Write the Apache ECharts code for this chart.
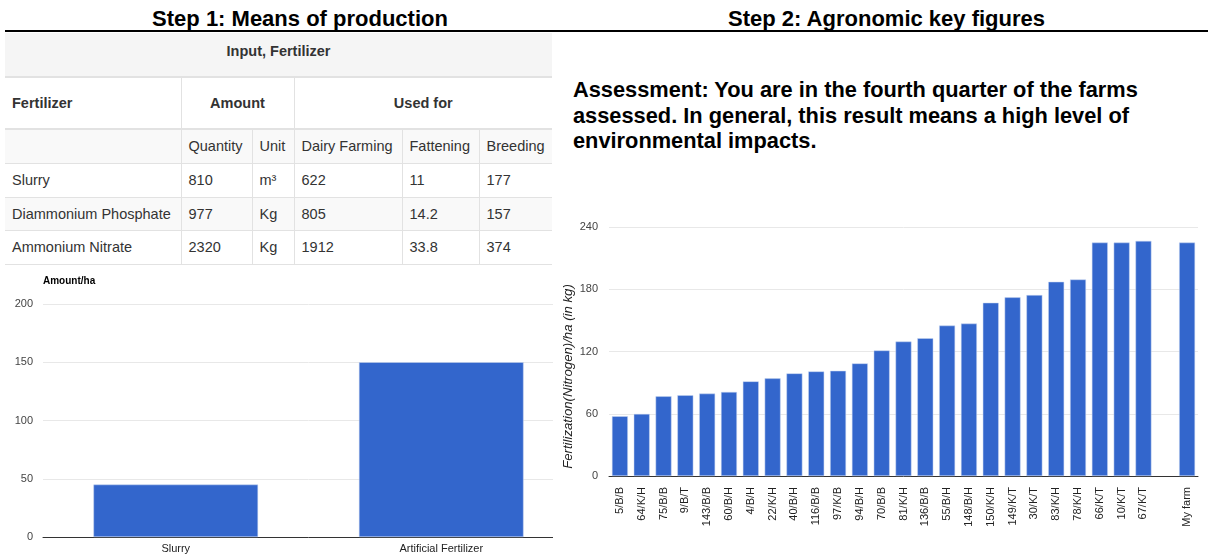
<!DOCTYPE html>
<html>
<head>
<meta charset="utf-8">
<script src="https://cdn.jsdelivr.net/npm/echarts@6/dist/echarts.min.js"></script>
<style>
  html, body { margin: 0; padding: 0; background: #fff; }
  body { width: 1208px; height: 555px; position: relative; overflow: hidden; font-family: Arial, "Liberation Sans", sans-serif; }
  .head { position: absolute; top: 6px; font-weight: bold; font-size: 22px; line-height: 26px; color: #000; text-align: center; }
  .rule { position: absolute; left: 5px; top: 30px; width: 1203px; height: 2px; background: #000; }
  table { position: absolute; left: 5px; top: 33px; width: 547px; border-collapse: collapse; font-size: 14.5px; color: #333; table-layout: fixed; }
  td { border: 1px solid #e2e2e2; padding: 0 0 0 7px; white-space: nowrap; overflow: hidden; box-sizing: border-box; }
  tr:first-child td { border-top: none; }
  td:first-child { border-left: none; }
  td:last-child { border-right: none; }
  .title td { background: #f5f5f5; font-weight: bold; text-align: center; height: 44px; padding: 0 0 8px 0; border-bottom: 2px solid #e2e2e2; }
  .hdr td { font-weight: bold; height: 52px; border-bottom: 2px solid #e2e2e2; }
  .hdr td.c { text-align: center; padding: 0; }
  .sub td { height: 34px; background: #f9f9f9; }
  .row td { height: 34px; }
  .row.odd td { background: #f9f9f9; height: 33px; }
  #assess { position: absolute; left: 573px; top: 77px; width: 620px; font-size: 21.8px; font-weight: bold; line-height: 25.5px; color: #000; }
  #c1wrap { position: absolute; left: 0; top: 270px; width: 553px; height: 285px; overflow: hidden; }
  #c1 { position: absolute; left: 0; top: 0; width: 600px; height: 285px; }
  #c2 { position: absolute; left: 550px; top: 200px; width: 658px; height: 355px; }
</style>
</head>
<body>
<div class="head" style="left:5px;width:590px;">Step 1: Means of production</div>
<div class="head" style="left:565px;width:643px;">Step 2: Agronomic key figures</div>
<div class="rule"></div>

<table>
  <colgroup>
    <col style="width:176px"><col style="width:71px"><col style="width:42px"><col style="width:108px"><col style="width:77px"><col style="width:73px">
  </colgroup>
  <tr class="title"><td colspan="6">Input, Fertilizer</td></tr>
  <tr class="hdr"><td>Fertilizer</td><td class="c" colspan="2">Amount</td><td class="c" colspan="3">Used for</td></tr>
  <tr class="sub"><td></td><td>Quantity</td><td>Unit</td><td>Dairy Farming</td><td>Fattening</td><td>Breeding</td></tr>
  <tr class="row"><td>Slurry</td><td>810</td><td>m³</td><td>622</td><td>11</td><td>177</td></tr>
  <tr class="row odd"><td>Diammonium Phosphate</td><td>977</td><td>Kg</td><td>805</td><td>14.2</td><td>157</td></tr>
  <tr class="row"><td>Ammonium Nitrate</td><td>2320</td><td>Kg</td><td>1912</td><td>33.8</td><td>374</td></tr>
</table>

<div id="assess">Assessment: You are in the fourth quarter of the farms assessed. In general, this result means a high level of environmental impacts.</div>

<div id="c1wrap"><div id="c1"></div></div>
<div id="c2"></div>

<script>
// ---- Data ----
const amountCategories = ['Slurry', 'Artificial Fertilizer'];
const amountValues = [45, 150];
const amountTicks = [0, 50, 100, 150, 200];

const farmCategories = ['5/B/B', '64/K/H', '75/B/B', '9/B/T', '143/B/B', '60/B/H', '4/B/H', '22/K/H', '40/B/H',
  '116/B/B', '97/K/B', '94/B/H', '70/B/B', '81/K/H', '136/B/B', '55/B/H', '148/B/H', '150/K/H', '149/K/T',
  '30/K/T', '83/K/H', '78/K/H', '66/K/T', '10/K/T', '67/K/T', '', 'My farm'];
const farmValues = [57.6, 59.8, 76.8, 77.8, 79.4, 81, 91.2, 94.1, 98.9, 100.8, 101.4, 108.5, 121, 129.6, 132.8,
  145, 146.9, 167, 172.2, 174.4, 187.2, 189.4, 225, 225, 226.6, null, 225];
const farmTicks = [0, 60, 120, 180, 240];

const BAR = '#3366cc';
const FONT = 'Arial, "Liberation Sans", sans-serif';

// ---- Left chart ----
const c1 = echarts.init(document.getElementById('c1'));
c1.setOption({
  animation: false,
  grid: { left: 43, right: 26, top: 34, bottom: 18, containLabel: false, outerBoundsMode: 'none' },
  xAxis: {
    type: 'category', data: amountCategories,
    axisLine: { lineStyle: { color: '#333', width: 1 } },
    axisTick: { show: false },
    axisLabel: { color: '#222', fontSize: 11, fontFamily: FONT, margin: 6 }
  },
  yAxis: {
    type: 'value', min: amountTicks[0], max: amountTicks[amountTicks.length - 1], interval: 50,
    name: 'Amount/ha', nameLocation: 'end', nameGap: 18,
    nameTextStyle: { align: 'left', fontWeight: 'bold', fontSize: 10, color: '#000', fontFamily: FONT },
    axisLine: { show: false }, axisTick: { show: false },
    axisLabel: { color: '#444', fontSize: 11, fontFamily: FONT, margin: 10 },
    splitLine: { lineStyle: { color: '#e8e8e8', width: 1 } }
  },
  series: [{
    type: 'bar', data: amountValues, barCategoryGap: '38%',
    itemStyle: { color: BAR, borderColor: '#c9d6f0', borderWidth: 0.5 }
  }]
});

// ---- Right chart ----
const c2 = echarts.init(document.getElementById('c2'));
c2.setOption({
  animation: false,
  grid: { left: 59, right: 10, top: 27, bottom: 79, containLabel: false, outerBoundsMode: 'none' },
  xAxis: {
    type: 'category', data: farmCategories,
    axisLine: { lineStyle: { color: '#333', width: 1 } },
    axisTick: { show: false },
    axisLabel: { color: '#222', fontSize: 11, fontFamily: FONT, rotate: 90, margin: 11, interval: 0 }
  },
  yAxis: {
    type: 'value', min: farmTicks[0], max: farmTicks[farmTicks.length - 1], interval: 60,
    name: 'Fertilization(Nitrogen)/ha (in kg)', nameLocation: 'middle', nameGap: 34, nameRotate: 90,
    nameMoveOverlap: false,
    nameTextStyle: { fontStyle: 'italic', fontSize: 13.2, color: '#222', fontFamily: FONT, padding: [0, 50, 0, 0] },
    axisLine: { show: false }, axisTick: { show: false },
    axisLabel: { color: '#444', fontSize: 11, fontFamily: FONT, margin: 11 },
    splitLine: { lineStyle: { color: '#e8e8e8', width: 1 } }
  },
  series: [{
    type: 'bar', data: farmValues, barCategoryGap: '27%',
    itemStyle: { color: BAR, borderColor: '#c9d6f0', borderWidth: 0.5 }
  }]
});
</script>
</body>
</html>
